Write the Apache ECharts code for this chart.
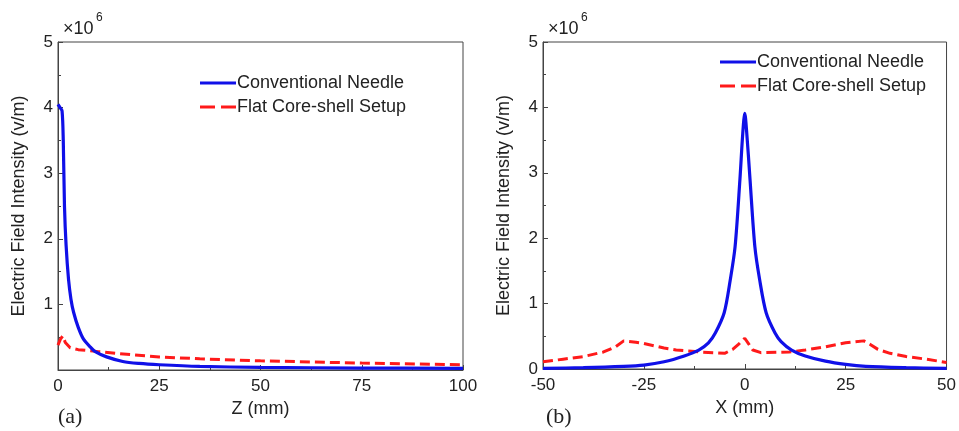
<!DOCTYPE html>
<html>
<head>
<meta charset="utf-8">
<script src="https://cdn.jsdelivr.net/npm/echarts@6/dist/echarts.min.js"></script>
<style>
  html, body { margin: 0; padding: 0; background: #fff; }
  #chart { width: 959px; height: 431px; }
</style>
</head>
<body>
<div id="chart"></div>
<script>
// (a) champ le long de l'axe Z
const zNeedle = [0, 0.5, 1, 1.3, 1.6, 2, 2.6, 3.2, 3.85, 5, 6.3, 8, 9.2, 12, 16, 20, 25, 35, 50, 75, 100];
const needleZ = [4.05, 4.0, 3.95, 3.5, 2.5, 1.9, 1.38, 1.08, 0.88, 0.65, 0.47, 0.35, 0.28, 0.2, 0.13, 0.1, 0.08, 0.055, 0.04, 0.03, 0.025];
const zCore = [0, 0.6, 1.2, 1.8, 3, 5, 10, 15, 25, 35, 50, 75, 100];
const coreZ = [0.38, 0.47, 0.52, 0.42, 0.34, 0.31, 0.28, 0.25, 0.2, 0.17, 0.14, 0.105, 0.08];

// (b) champ le long de l'axe X
const xNeedle = [-50, -40, -30, -25, -20, -15, -11.4, -9, -7.3, -5.1, -3.6, -2.4, -1.2, -0.5, 0, 0.5, 1.3, 2.5, 3.7, 5.3, 7.5, 9, 11.6, 15, 20, 25, 30, 40, 50];
const needleX = [0.01, 0.02, 0.04, 0.06, 0.11, 0.2, 0.29, 0.4, 0.55, 0.86, 1.36, 1.87, 2.9, 3.6, 3.91, 3.6, 2.9, 1.87, 1.36, 0.86, 0.55, 0.42, 0.29, 0.2, 0.12, 0.07, 0.04, 0.02, 0.01];
const xCore = [-50, -45, -40, -35, -32, -30, -27, -25, -20, -17, -11, -5, -3, -1.5, 0, 1, 2, 4, 11, 15, 20, 25, 29.5, 31, 33, 36, 40, 45, 50];
const coreX = [0.11, 0.15, 0.19, 0.26, 0.34, 0.43, 0.41, 0.39, 0.32, 0.29, 0.26, 0.24, 0.3, 0.38, 0.47, 0.38, 0.29, 0.25, 0.26, 0.29, 0.34, 0.4, 0.43, 0.38, 0.3, 0.24, 0.19, 0.15, 0.1];

const zTicks = [0, 100, 25];
const xTicks = [-50, 50, 25];

const seriesNames = ['Conventional Needle', 'Flat Core-shell Setup'];
const police = 'Liberation Sans, Arial, sans-serif';
const gris = '#444';
const bleu = '#1010e8';
const rouge = '#ff1a1a';

function paires(xs, ys) {
    return xs.map((x, i) => [x, ys[i] * 1e6]);
}

function axeX(idx, ticks, nom) {
    return {
        gridIndex: idx,
        type: 'value',
        min: ticks[0],
        max: ticks[1],
        interval: ticks[2],
        name: nom,
        nameLocation: 'middle',
        nameGap: 27,
        nameTextStyle: { fontSize: 18, color: '#222', fontFamily: police },
        axisLine: { onZero: false, lineStyle: { color: gris } },
        axisTick: { inside: true, length: 5, lineStyle: { color: gris } },
        minorTick: { show: true, splitNumber: 2, length: 3, lineStyle: { color: gris } },
        axisLabel: { fontSize: 17, color: '#222', fontFamily: police, margin: 8 },
        splitLine: { show: false }
    };
}

function axeY(idx, cacherZero) {
    return {
        gridIndex: idx,
        type: 'value',
        min: 0,
        max: 5e6,
        interval: 1e6,
        name: 'Electric Field Intensity (v/m)',
        nameLocation: 'middle',
        nameGap: 30,
        nameTextStyle: { fontSize: 18, color: '#222', fontFamily: police },
        axisLine: { onZero: false, lineStyle: { color: gris } },
        axisTick: { inside: true, length: 5, lineStyle: { color: gris } },
        minorTick: { show: true, splitNumber: 2, length: 3, lineStyle: { color: gris } },
        axisLabel: {
            fontSize: 17, color: '#222', fontFamily: police, margin: 5,
            formatter: v => (cacherZero && v === 0) ? '' : String(v / 1e6)
        },
        splitLine: { show: false }
    };
}

function courbe(nom, idx, data, estRouge) {
    return {
        name: nom,
        type: 'line',
        xAxisIndex: idx,
        yAxisIndex: idx,
        data: data,
        symbol: 'none',
        smooth: estRouge ? false : 0.3,
        color: estRouge ? rouge : bleu,
        lineStyle: estRouge
            ? { color: rouge, width: 3, type: [10, 5] }
            : { color: bleu, width: 3.2 }
    };
}

function legende(gauche, haut) {
    return {
        data: [
            { name: seriesNames[0], icon: 'rect', itemStyle: { color: bleu } },
            { name: seriesNames[1], icon: 'path://M0,0H15V3H0Z M21,0H36V3H21Z', itemStyle: { color: rouge } }
        ],
        orient: 'vertical',
        left: gauche,
        top: haut,
        itemWidth: 36,
        itemHeight: 3,
        itemGap: 6,
        padding: 0,
        textStyle: { fontSize: 18, color: '#222', fontFamily: police, padding: [0, 0, 0, -4] }
    };
}

function etiquette(x, y, texte, taille, famille) {
    return {
        type: 'text',
        left: x,
        top: y,
        style: { text: texte, fontSize: taille, fill: '#222', fontFamily: famille || police }
    };
}

const chart = echarts.init(document.getElementById('chart'));

chart.setOption({
    animation: false,
    backgroundColor: '#fff',
    grid: [
        { left: 58, right: 496, top: 42, bottom: 61, show: true, borderColor: gris, borderWidth: 1 },
        { left: 543, right: 10, top: 42, bottom: 62, show: true, borderColor: gris, borderWidth: 1 }
    ],
    legend: [legende(200, 74), legende(720, 53)],
    xAxis: [axeX(0, zTicks, 'Z (mm)'), axeX(1, xTicks, 'X (mm)')],
    yAxis: [axeY(0, true), axeY(1, false)],
    series: [
        courbe(seriesNames[1], 0, paires(zCore, coreZ), true),
        courbe(seriesNames[0], 0, paires(zNeedle, needleZ), false),
        courbe(seriesNames[1], 1, paires(xCore, coreX), true),
        courbe(seriesNames[0], 1, paires(xNeedle, needleX), false)
    ],
    graphic: [
        etiquette(63, 20, '×10', 18),
        etiquette(96, 12, '6', 12),
        etiquette(548, 20, '×10', 18),
        etiquette(581, 12, '6', 12),
        etiquette(58, 406, '(a)', 22, 'Liberation Serif, Times New Roman, serif'),
        etiquette(546, 406, '(b)', 22, 'Liberation Serif, Times New Roman, serif')
    ]
});

window.onresize = () => chart.resize();
</script>
</body>
</html>
